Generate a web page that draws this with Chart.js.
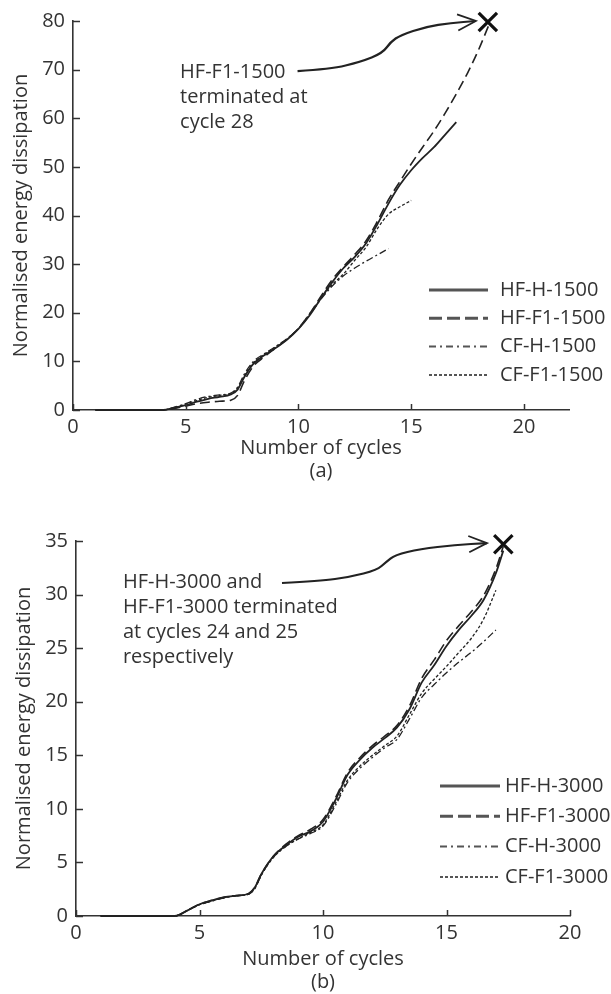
<!DOCTYPE html>
<html>
<head>
<meta charset="utf-8">
<script src="https://cdn.jsdelivr.net/npm/chart.js@4.4.1/dist/chart.umd.min.js"></script>
<style>
  body { margin: 0; background: #fff; }
  .panel { position: absolute; left: 0; width: 611px; }
</style>
</head>
<body>
<div class="panel" style="top:0;height:484px"><canvas id="chartA"></canvas></div>
<div class="panel" style="top:484px;height:510px"><canvas id="chartB"></canvas></div>
<script>
"use strict";

//--------------------DATA

// (a) 1500 series
let cyclesA = [1, 2, 3, 4, 4.5, 5, 5.5, 6, 6.5, 7, 7.3, 7.6, 8, 8.5, 9, 9.5, 10, 10.5, 11, 11.5,
  12, 12.5, 13, 13.5, 14, 14.5, 15, 15.5, 16, 16.5, 17, 17.5, 18, 18.5];
let hfH1500 = [0, 0, 0, 0, 0.5, 1.0, 1.7, 2.3, 2.7, 3.2, 4.2, 6.8, 9.5, 11.3, 12.8, 14.5, 16.7, 19.5, 23.0, 26.3,
  29.2, 31.5, 34.3, 38.2, 42.5, 46.3, 49.3, 51.8, 54.0, 56.6, 59.2];
let hfF11500 = [0, 0, 0, 0, 0.3, 0.8, 1.3, 1.6, 1.8, 2.0, 3.0, 6.0, 9.0, 11.0, 12.8, 14.6, 16.8, 19.8, 23.4, 26.8,
  29.5, 32.0, 34.8, 38.8, 43.3, 47.0, 50.6, 54.0, 57.3, 61.0, 65.0, 69.3, 74.2, 79.8];
let cfH1500 = [0, 0, 0, 0, 0.6, 1.3, 2.2, 2.8, 3.1, 3.5, 4.7, 7.4, 10.0, 11.6, 13.1, 14.7, 16.7, 19.6, 22.8, 25.5,
  27.6, 29.2, 30.6, 31.9, 33.2];
let cfF11500 = [0, 0, 0, 0, 0.5, 1.2, 2.0, 2.6, 3.0, 3.4, 4.5, 7.1, 9.7, 11.5, 13.0, 14.6, 16.8, 19.8, 23.0, 25.8,
  28.0, 30.8, 33.5, 37.3, 40.3, 41.8, 43.1];

// (b) 3000 series
let cyclesB = [1, 2, 3, 4, 4.5, 5, 5.5, 6, 6.5, 7, 7.25, 7.5, 8, 8.5, 9, 9.5, 10, 10.5, 11, 11.5,
  12, 12.5, 13, 13.5, 14, 14.5, 15, 15.5, 16, 16.5, 17, 17.3];
let hfH3000 = [0, 0, 0, 0, 0.5, 1.1, 1.45, 1.75, 1.9, 2.1, 2.7, 3.9, 5.6, 6.6, 7.4, 7.9, 8.8, 10.8, 13.2, 14.6,
  15.7, 16.6, 17.6, 19.3, 21.8, 23.4, 25.2, 26.7, 28.0, 29.5, 32.0, 34.1];
let hfF13000 = [0, 0, 0, 0, 0.5, 1.1, 1.45, 1.75, 1.9, 2.1, 2.7, 3.9, 5.6, 6.7, 7.5, 8.1, 9.0, 11.0, 13.4, 14.8,
  15.9, 16.8, 17.8, 19.6, 22.2, 23.9, 25.7, 27.1, 28.4, 29.9, 32.4, 34.5];
let cfH3000 = [0, 0, 0, 0, 0.5, 1.05, 1.4, 1.7, 1.9, 2.05, 2.6, 3.8, 5.5, 6.5, 7.2, 7.7, 8.4, 10.3, 12.5, 13.8,
  14.8, 15.7, 16.5, 18.4, 20.4, 21.6, 22.7, 23.7, 24.6, 25.6, 26.7];
let cfF13000 = [0, 0, 0, 0, 0.5, 1.05, 1.4, 1.7, 1.9, 2.05, 2.6, 3.8, 5.5, 6.5, 7.2, 7.8, 8.5, 10.5, 12.7, 14.0,
  15.0, 15.9, 16.8, 18.8, 20.8, 22.1, 23.3, 24.6, 25.9, 27.7, 30.4];

// labels
let labelsA = ["HF-H-1500", "HF-F1-1500", "CF-H-1500", "CF-F1-1500"];
let labelsB = ["HF-H-3000", "HF-F1-3000", "CF-H-3000", "CF-F1-3000"];
let noteA = ["HF-F1-1500", "terminated at", "cycle 28"];
let noteB = ["HF-H-3000 and", "HF-F1-3000 terminated", "at cycles 24 and 25", "respectively"];

//--------------------STYLE

const FONT = "'Open Sans'";
const FSIZE = 20;
const TEXT = "#333";
const LINE = "#222";

// line styles for solid, dashed, dash-dot, dotted
let lineStyles = [
  { dash: [], width: 1.8, legendWidth: 3, legendDash: [] },
  { dash: [10, 5], width: 1.6, legendWidth: 3, legendDash: [13, 5] },
  { dash: [7, 3, 2, 3], width: 1.3, legendWidth: 2, legendDash: [7, 4, 2, 4] },
  { dash: [3, 2], width: 1.3, legendWidth: 2, legendDash: [3, 2] },
];

//--------------------FUNCTIONS

// pair up cycles and values, stop where the series stops
function toPoints(xs, ys) {
  let pts = [];
  for (let i = 0; i < ys.length; i++) {
    pts.push({ x: xs[i], y: ys[i] });
  }
  return pts;
}

function makeDatasets(xs, series, labels) {
  let sets = [];
  for (let i = 0; i < series.length; i++) {
    sets.push({
      label: labels[i],
      data: toPoints(xs, series[i]),
      borderColor: LINE,
      borderWidth: lineStyles[i].width,
      borderDash: lineStyles[i].dash,
      pointRadius: 0,
      cubicInterpolationMode: "monotone",
      clip: false,
    });
  }
  return sets;
}

// the big cross at the end of the terminated run
function markerSet(pt) {
  return {
    label: "end",
    data: [pt],
    showLine: false,
    pointStyle: "crossRot",
    pointRadius: 13,
    pointBorderWidth: 3.2,
    pointBorderColor: "#111",
    clip: false,
  };
}

// smooth path through annotation points (in data units)
function drawArrow(ctx, xs, ys, path) {
  let p = path.map((d) => [xs.getPixelForValue(d[0]), ys.getPixelForValue(d[1])]);
  ctx.beginPath();
  ctx.moveTo(p[0][0], p[0][1]);
  for (let i = 1; i < p.length - 1; i++) {
    let mx = (p[i][0] + p[i + 1][0]) / 2;
    let my = (p[i][1] + p[i + 1][1]) / 2;
    ctx.quadraticCurveTo(p[i][0], p[i][1], mx, my);
  }
  let last = p[p.length - 1];
  ctx.lineTo(last[0], last[1]);
  ctx.lineWidth = 2.2;
  ctx.strokeStyle = "#222";
  ctx.setLineDash([]);
  ctx.stroke();
  // arrow head
  let prev = p[p.length - 2];
  let ang = Math.atan2(last[1] - prev[1], last[0] - prev[0]);
  ctx.beginPath();
  ctx.moveTo(last[0] - 20 * Math.cos(ang - 0.42), last[1] - 20 * Math.sin(ang - 0.42));
  ctx.lineTo(last[0], last[1]);
  ctx.lineTo(last[0] - 20 * Math.cos(ang + 0.42), last[1] - 20 * Math.sin(ang + 0.42));
  ctx.lineWidth = 1.8;
  ctx.stroke();
}

function decorPlugin(cfg) {
  return {
    id: "decor",
    afterDatasetsDraw(chart) {
      const ctx = chart.ctx;
      const xs = chart.scales.x;
      const ys = chart.scales.y;
      const area = chart.chartArea;
      ctx.save();

      // inward tick marks
      ctx.strokeStyle = TEXT;
      ctx.lineWidth = 1.5;
      ys.ticks.forEach((t) => {
        let py = Math.round(ys.getPixelForValue(t.value)) + 0.5;
        ctx.beginPath();
        ctx.moveTo(area.left, py);
        ctx.lineTo(area.left + 7, py);
        ctx.stroke();
      });
      xs.ticks.forEach((t) => {
        let px = Math.round(xs.getPixelForValue(t.value)) + 0.5;
        ctx.beginPath();
        ctx.moveTo(px, area.bottom);
        ctx.lineTo(px, area.bottom - 6);
        ctx.stroke();
      });

      // legend
      ctx.font = FSIZE + "px " + FONT;
      ctx.textBaseline = "middle";
      ctx.textAlign = "left";
      for (let i = 0; i < cfg.labels.length; i++) {
        let y = area.bottom - cfg.legendTop + i * cfg.legendStep;
        ctx.beginPath();
        ctx.setLineDash(lineStyles[i].legendDash);
        ctx.lineWidth = lineStyles[i].legendWidth;
        ctx.strokeStyle = "#555";
        ctx.moveTo(area.right - cfg.legendX0, y);
        ctx.lineTo(area.right - cfg.legendX1, y);
        ctx.stroke();
        ctx.fillStyle = TEXT;
        ctx.fillText(cfg.labels[i], area.right - cfg.legendText, y);
      }

      // note text
      ctx.setLineDash([]);
      let tx = xs.getPixelForValue(cfg.noteAt[0]);
      let ty = ys.getPixelForValue(cfg.noteAt[1]);
      for (let i = 0; i < cfg.note.length; i++) {
        ctx.fillText(cfg.note[i], tx, ty + i * cfg.noteStep);
      }
      drawArrow(ctx, xs, ys, cfg.arrow);
      ctx.restore();
    },
  };
}

function makeChart(id, opts) {
  const ctx = document.getElementById(id).getContext("2d");
  return new Chart(ctx, {
    type: "line",
    data: { datasets: opts.datasets },
    options: {
      responsive: true,
      maintainAspectRatio: false,
      animation: false,
      layout: { padding: opts.padding },
      plugins: { legend: { display: false }, tooltip: { enabled: false } },
      scales: {
        x: {
          type: "linear",
          min: 0,
          max: opts.xMax,
          afterFit: (s) => { s.height = opts.xHeight; },
          border: { color: TEXT, width: 1.6 },
          grid: { display: false, drawTicks: false },
          ticks: { stepSize: 5, includeBounds: false, padding: 5, color: TEXT, font: { family: FONT, size: FSIZE } },
          title: {
            display: true,
            text: ["Number of cycles", opts.caption],
            color: TEXT,
            font: { family: FONT, size: FSIZE, lineHeight: "23px" },
            padding: { top: 0, bottom: opts.titlePad },
          },
        },
        y: {
          min: 0,
          max: opts.yMax,
          afterFit: (s) => { s.width = opts.yWidth; },
          border: { color: TEXT, width: 1.6 },
          grid: { display: false, drawTicks: false },
          ticks: { stepSize: opts.yStep, padding: 8, color: TEXT, font: { family: FONT, size: FSIZE } },
          title: {
            display: true,
            text: "Normalised energy dissipation",
            color: TEXT,
            font: { family: FONT, size: FSIZE, lineHeight: "23px" },
            padding: { top: opts.yTitlePad, bottom: 0 },
          },
        },
      },
    },
    plugins: [decorPlugin(opts.decor)],
  });
}

//--------------------FUNCTION CALLS

let setsA = makeDatasets(cyclesA, [hfH1500, hfF11500, cfH1500, cfF11500], labelsA);
setsA.push(markerSet({ x: cyclesA[hfF11500.length - 1] - 0.1, y: hfF11500[hfF11500.length - 1] }));

makeChart("chartA", {
  datasets: setsA,
  padding: { top: 21, right: 42, left: 0, bottom: 0 },
  xMax: 22,
  yMax: 80,
  yStep: 10,
  xHeight: 74,
  yWidth: 73,
  titlePad: 1.5,
  yTitlePad: 10,
  caption: "(a)",
  decor: {
    labels: labelsA,
    legendTop: 120, legendStep: 28.3, legendX0: 140, legendX1: 81, legendText: 69,
    note: noteA, noteAt: [4.75, 69.5], noteStep: 25,
    arrow: [[9.96, 69.7], [11.42, 70.1], [12.76, 71.6], [13.73, 73.4], [14.09, 75.7],
      [14.53, 77.1], [15.64, 78.8], [16.76, 79.6], [17.87, 80.0]],
  },
});

let setsB = makeDatasets(cyclesB, [hfH3000, hfF13000, cfH3000, cfF13000], labelsB);
setsB.push(markerSet({ x: cyclesB[hfF13000.length - 1], y: hfF13000[hfF13000.length - 1] + 0.2 }));

makeChart("chartB", {
  datasets: setsB,
  padding: { top: 57, right: 41, left: 0, bottom: 0 },
  xMax: 20,
  yMax: 35,
  yStep: 5,
  xHeight: 78,
  yWidth: 76,
  titlePad: 0,
  yTitlePad: 12.5,
  caption: "(b)",
  decor: {
    labels: labelsB,
    legendTop: 130, legendStep: 30.3, legendX0: 130, legendX1: 70, legendText: 65,
    note: noteB, noteAt: [1.9, 31.1], noteStep: 24.7,
    arrow: [[8.34, 31.08], [9.88, 31.27], [11.09, 31.64], [12.19, 32.29], [12.55, 33.04],
      [12.91, 33.69], [13.93, 34.25], [15.34, 34.63], [16.64, 34.81]],
  },
});
</script>
</body>
</html>
